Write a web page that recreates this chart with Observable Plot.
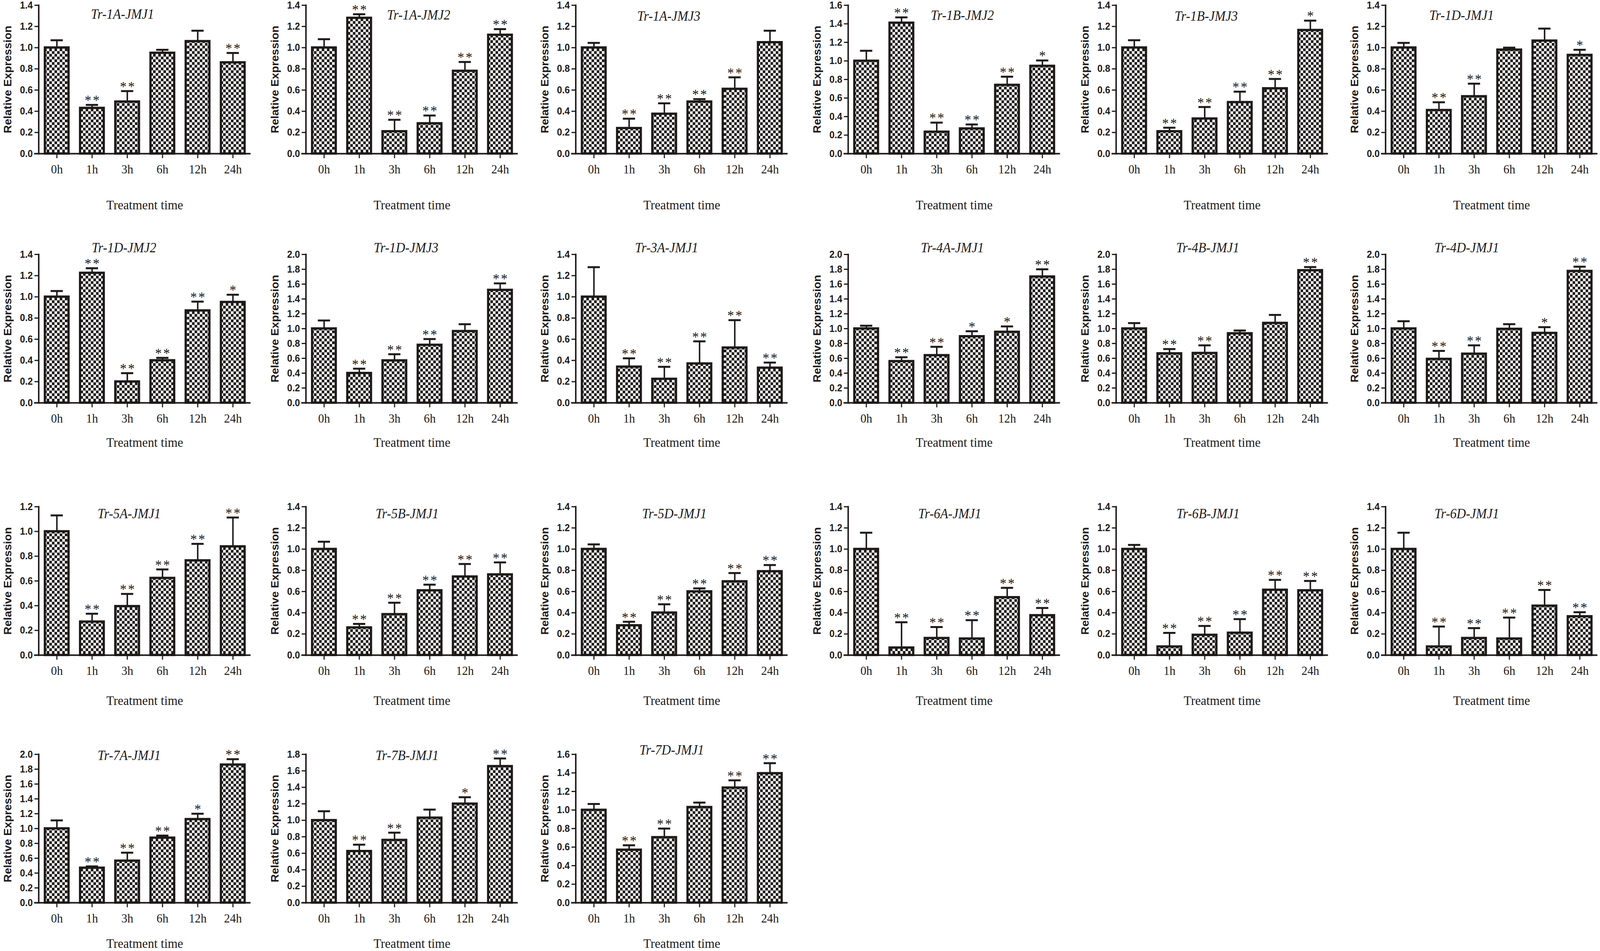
<!DOCTYPE html>
<html><head><meta charset="utf-8">
<script src="https://cdn.jsdelivr.net/npm/d3@7"></script>
<script src="https://cdn.jsdelivr.net/npm/@observablehq/plot@0.6"></script>
<style>
html,body{margin:0;padding:0;background:#fff;overflow:hidden;}
#page{position:relative;width:4317px;height:2435px;overflow:hidden;background:#fff;transform-origin:0 0;}
#page .panel{position:absolute;}
#page .panel svg{max-width:none !important;}
#page .sig text{letter-spacing:4px;}
</style></head><body>
<svg width="0" height="0" style="position:absolute">
  <defs>
    <pattern id="checker" patternUnits="userSpaceOnUse" width="14" height="14">
      <rect width="14" height="14" fill="#ffffff"/>
      <rect x="0" y="0" width="7" height="7" fill="#1e1a1a"/>
      <rect x="7" y="7" width="7" height="7" fill="#1e1a1a"/>
    </pattern>
  </defs>
</svg>
<div id="page"></div>
<script>
// ---------- data ----------
const times = ["0h", "1h", "3h", "6h", "12h", "24h"];
const genes = [
  "Tr-1A-JMJ1", "Tr-1A-JMJ2", "Tr-1A-JMJ3", "Tr-1B-JMJ2", "Tr-1B-JMJ3", "Tr-1D-JMJ1",
  "Tr-1D-JMJ2", "Tr-1D-JMJ3", "Tr-3A-JMJ1", "Tr-4A-JMJ1", "Tr-4B-JMJ1", "Tr-4D-JMJ1",
  "Tr-5A-JMJ1", "Tr-5B-JMJ1", "Tr-5D-JMJ1", "Tr-6A-JMJ1", "Tr-6B-JMJ1", "Tr-6D-JMJ1",
  "Tr-7A-JMJ1", "Tr-7B-JMJ1", "Tr-7D-JMJ1"
];
const yMax = [1.4, 1.4, 1.4, 1.6, 1.4, 1.4, 1.4, 2.0, 1.4, 2.0, 2.0, 2.0, 1.2, 1.4, 1.4, 1.4, 1.4, 1.4, 2.0, 1.8, 1.6];
const means = [
  [1.00, 0.43, 0.49, 0.95, 1.06, 0.86],
  [1.00, 1.28, 0.21, 0.285, 0.78, 1.12],
  [1.00, 0.24, 0.375, 0.49, 0.61, 1.05],
  [1.00, 1.41, 0.235, 0.27, 0.74, 0.945],
  [1.00, 0.21, 0.33, 0.485, 0.615, 1.165],
  [1.00, 0.41, 0.54, 0.98, 1.065, 0.93],
  [1.00, 1.225, 0.20, 0.40, 0.87, 0.95],
  [1.00, 0.40, 0.57, 0.78, 0.965, 1.52],
  [1.00, 0.34, 0.225, 0.37, 0.52, 0.33],
  [1.00, 0.56, 0.64, 0.895, 0.955, 1.70],
  [1.00, 0.665, 0.67, 0.935, 1.075, 1.785],
  [1.00, 0.59, 0.66, 0.995, 0.94, 1.775],
  [1.00, 0.27, 0.395, 0.623, 0.765, 0.878],
  [1.00, 0.26, 0.385, 0.61, 0.74, 0.76],
  [1.00, 0.28, 0.40, 0.60, 0.695, 0.79],
  [1.00, 0.07, 0.16, 0.155, 0.545, 0.375],
  [1.00, 0.08, 0.19, 0.21, 0.615, 0.61],
  [1.00, 0.08, 0.16, 0.155, 0.465, 0.365],
  [1.00, 0.47, 0.565, 0.875, 1.125, 1.86],
  [1.00, 0.625, 0.76, 1.03, 1.20, 1.655],
  [1.00, 0.57, 0.705, 1.03, 1.24, 1.395]
];
const errors = [
  [0.07, 0.03, 0.10, 0.03, 0.10, 0.09],
  [0.08, 0.035, 0.11, 0.075, 0.085, 0.055],
  [0.045, 0.09, 0.10, 0.025, 0.11, 0.11],
  [0.11, 0.06, 0.10, 0.045, 0.09, 0.06],
  [0.07, 0.035, 0.11, 0.10, 0.09, 0.09],
  [0.045, 0.075, 0.12, 0.02, 0.115, 0.05],
  [0.055, 0.045, 0.08, 0.025, 0.085, 0.07],
  [0.11, 0.06, 0.085, 0.08, 0.095, 0.09],
  [0.28, 0.08, 0.115, 0.21, 0.26, 0.05],
  [0.04, 0.055, 0.115, 0.07, 0.075, 0.10],
  [0.075, 0.06, 0.105, 0.04, 0.11, 0.045],
  [0.10, 0.11, 0.115, 0.065, 0.08, 0.06],
  [0.13, 0.065, 0.10, 0.07, 0.135, 0.235],
  [0.07, 0.035, 0.11, 0.055, 0.12, 0.115],
  [0.045, 0.035, 0.08, 0.03, 0.08, 0.06],
  [0.155, 0.24, 0.105, 0.175, 0.09, 0.07],
  [0.04, 0.13, 0.085, 0.13, 0.095, 0.09],
  [0.155, 0.19, 0.095, 0.20, 0.15, 0.04],
  [0.11, 0.02, 0.11, 0.03, 0.075, 0.075],
  [0.11, 0.08, 0.09, 0.10, 0.08, 0.095],
  [0.065, 0.05, 0.095, 0.05, 0.08, 0.11]
];
const signif = [
  ["", "**", "**", "", "", "**"],
  ["", "**", "**", "**", "**", "**"],
  ["", "**", "**", "**", "**", ""],
  ["", "**", "**", "**", "**", "*"],
  ["", "**", "**", "**", "**", "*"],
  ["", "**", "**", "", "", "*"],
  ["", "**", "**", "**", "**", "*"],
  ["", "**", "**", "**", "", "**"],
  ["", "**", "**", "**", "**", "**"],
  ["", "**", "**", "*", "*", "**"],
  ["", "**", "**", "", "", "**"],
  ["", "**", "**", "", "*", "**"],
  ["", "**", "**", "**", "**", "**"],
  ["", "**", "**", "**", "**", "**"],
  ["", "**", "**", "**", "**", "**"],
  ["", "**", "**", "**", "**", "**"],
  ["", "**", "**", "**", "**", "**"],
  ["", "**", "**", "**", "**", "**"],
  ["", "**", "**", "**", "*", "**"],
  ["", "**", "**", "", "*", "**"],
  ["", "**", "**", "", "**", "**"]
];
const yLabel = "Relative Expression";
const xLabel = "Treatment time";

// ---------- layout ----------
const colAxisX = [104, 825, 1553, 2288, 3011, 3738];
const rowTopY = [13, 651, 1297, 1931];
const treatDy = [132, 102, 117, 105];
const titleDx = [226, 304, 251, 308, 243, 205, 230, 270, 245, 281, 247, 219, 244, 273, 266, 274, 248, 219, 244, 273, 259];
const titleDy = [23, 25, 28, 26, 28, 26, -17, -17, -17, -17, -17, -17, 18, 18, 18, 18, 18, 18, 3, 3, -11];

const INK = "#1e1a1a";
const SERIF = "'Liberation Serif', 'Times New Roman', serif";
const SANS = "'Liberation Sans', Arial, sans-serif";
const mL = 104, mR = 20, mT = 50, mB = 165, plotW = 572, plotH = 380;
const PAGE_W = 4317, PAGE_H = 2435;

const page = document.getElementById("page");
genes.forEach((gene, i) => {
  const row = Math.floor(i / 6), col = i % 6;
  const data = times.map((t, j) => ({time: t, mean: means[i][j], se: errors[i][j], sig: signif[i][j]}));
  const ticks = d3.range(0, Math.round(yMax[i] / 0.2) + 1).map(k => +(k * 0.2).toFixed(1));
  const chart = Plot.plot({
    width: mL + plotW + mR,
    height: mT + plotH + mB,
    marginLeft: mL, marginRight: mR, marginTop: mT, marginBottom: mB,
    style: "background: transparent; overflow: visible; max-width: none;",
    x: {domain: times, paddingInner: 0.33, paddingOuter: 0.17, label: null},
    y: {domain: [0, yMax[i]], label: null},
    marks: [
      Plot.ruleX(data, {x: "time", y1: "mean", y2: d => d.mean + d.se, stroke: INK, strokeWidth: 4}),
      Plot.tickY(data, {x: "time", y: d => d.mean + d.se, stroke: INK, strokeWidth: 5, insetLeft: 15.5, insetRight: 15.5}),
      Plot.barY(data, {x: "time", y: "mean", fill: "url(#checker)", stroke: INK, strokeWidth: 6}),
      Plot.text(data, {x: "time", y: d => d.mean + d.se, text: "sig", lineAnchor: "middle", dy: -11, dx: 2,
        fontSize: 36, fontFamily: SERIF, fill: INK, className: "sig"}),
      Plot.frame({anchor: "left", stroke: INK, strokeWidth: 4}),
      Plot.ruleY([0], {stroke: INK, strokeWidth: 4, insetLeft: -12}),
      Plot.axisY({ticks, tickFormat: d => d.toFixed(1), tickSize: 11, tickPadding: 5,
        fontSize: 25, fontWeight: "bold", fontFamily: SANS, stroke: INK, fill: INK, strokeWidth: 3}),
      Plot.axisX({tickSize: 12, tickPadding: 16, fontSize: 32, fontFamily: SERIF,
        stroke: INK, fill: INK, strokeWidth: 3, label: null}),
      Plot.text([gene], {text: d => d, frameAnchor: "top-left", dx: titleDx[i], dy: titleDy[i],
        textAnchor: "middle", lineAnchor: "middle", fontStyle: "italic", fontSize: 35, fontFamily: SERIF, fill: INK}),
      Plot.text([yLabel], {text: d => d, frameAnchor: "left", rotate: -90, dx: -83,
        textAnchor: "middle", lineAnchor: "middle",
        fontWeight: "bold", fontSize: 29, fontFamily: SANS, fill: INK}),
      Plot.text([xLabel], {text: d => d, frameAnchor: "bottom", dy: treatDy[row],
        textAnchor: "middle", lineAnchor: "middle", fontSize: 34, fontFamily: SERIF, fill: INK})
    ]
  });
  const wrap = document.createElement("div");
  wrap.className = "panel";
  wrap.style.left = (colAxisX[col] - mL) + "px";
  wrap.style.top = (rowTopY[row] - mT) + "px";
  wrap.appendChild(chart);
  page.appendChild(wrap);
});
// fit the 4317-wide figure into the actual viewport if it is smaller
const vw = document.documentElement.clientWidth || window.innerWidth;
const vh = document.documentElement.clientHeight || window.innerHeight;
const sx = Math.min(1, vw / PAGE_W), sy = Math.min(1, vh / PAGE_H);
page.style.transform = `scale(${sx}, ${sy})`;
</script>
</body></html>
